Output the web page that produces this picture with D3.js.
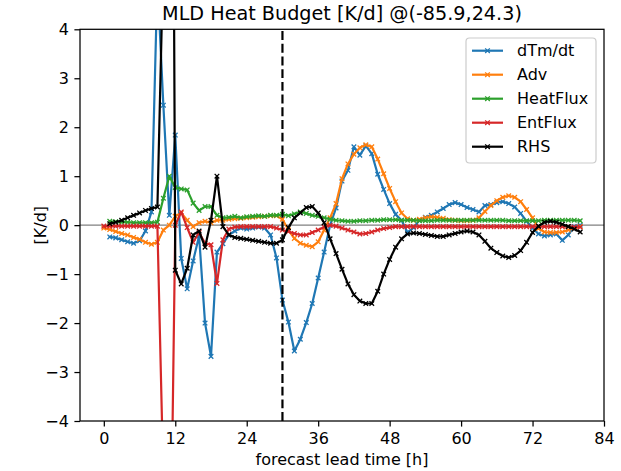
<!DOCTYPE html>
<html>
<head>
<meta charset="utf-8">
<script src="https://cdn.jsdelivr.net/npm/d3@7"></script>
<style>
  body { margin: 0; background: #fff; }
  svg text { font-family: "DejaVu Sans", sans-serif; fill: #000; }
</style>
</head>
<body>
<script>
// forecast hours
const hoursA = d3.range(0, 81)   // Adv, EntFlux
const hoursB = d3.range(1, 81)   // dTm/dt, HeatFlux, RHS

const dTmdt = [-0.24,-0.26,-0.3,-0.34,-0.37,-0.32,-0.12,0.27,5.0,2.45,
  0.2,1.84,-0.68,-1.3,-0.73,-0.22,-2.0,-2.68,-0.55,-0.38,
  -0.2,-0.12,-0.06,-0.08,-0.06,-0.04,-0.06,-0.2,-0.67,-1.53,
  -1.98,-2.57,-2.33,-1.99,-1.6,-1.08,-0.55,0.0,0.35,0.9,
  1.12,1.6,1.43,1.62,1.46,1.04,0.73,0.44,0.22,0.1,
  -0.15,-0.05,0.1,0.16,0.2,0.27,0.34,0.42,0.46,0.42,
  0.36,0.32,0.27,0.4,0.42,0.46,0.48,0.44,0.37,0.24,
  0.08,-0.06,-0.18,-0.22,-0.2,-0.18,-0.31,-0.2,-0.03,0.0]

const adv = [-0.06,-0.09,-0.13,-0.17,-0.2,-0.25,-0.29,-0.35,-0.39,-0.35,
  -0.1,0.0,0.18,0.25,0.1,-0.03,0.05,0.08,0.05,0.1,
  0.1,0.12,0.13,0.14,0.15,0.16,0.17,0.18,0.19,0.19,
  0.12,-0.1,-0.27,-0.37,-0.41,-0.44,-0.34,-0.1,0.15,0.44,
  0.95,1.25,1.45,1.58,1.64,1.6,1.35,1.05,0.75,0.48,
  0.25,0.13,0.1,0.12,0.15,0.17,0.16,0.14,0.11,0.1,
  0.09,0.09,0.1,0.15,0.28,0.4,0.5,0.57,0.6,0.57,
  0.48,0.32,0.15,-0.07,-0.14,-0.15,-0.15,-0.14,-0.1,-0.06,-0.03]

const heatFlux = [0.08,0.07,0.06,0.06,0.05,0.05,0.05,0.05,0.06,0.55,
  1.0,0.77,0.74,0.72,0.45,0.3,0.38,0.38,0.2,0.15,
  0.16,0.18,0.15,0.17,0.18,0.19,0.18,0.2,0.2,0.22,
  0.19,0.23,0.27,0.24,0.2,0.18,0.15,0.12,0.1,0.09,
  0.08,0.08,0.09,0.09,0.1,0.1,0.11,0.11,0.11,0.1,
  0.1,0.1,0.09,0.09,0.09,0.1,0.1,0.1,0.1,0.1,
  0.1,0.1,0.1,0.1,0.1,0.1,0.1,0.09,0.09,0.09,
  0.09,0.09,0.09,0.1,0.1,0.1,0.1,0.1,0.1,0.09]

const entFlux = [-0.02,-0.02,-0.02,-0.02,-0.02,-0.02,-0.02,-0.02,-0.02,-0.02,
  -5.2,-9.0,0.0,0.27,-0.05,-0.35,-0.15,-0.37,-0.4,-1.19,
  -0.3,-0.08,-0.04,-0.03,-0.03,-0.03,-0.03,-0.03,-0.03,-0.06,
  -0.1,-0.13,-0.17,-0.2,-0.2,-0.15,-0.1,-0.04,0.0,-0.02,
  -0.06,-0.1,-0.14,-0.18,-0.17,-0.14,-0.1,-0.07,-0.05,-0.03,
  -0.03,-0.03,-0.03,-0.03,-0.03,-0.03,-0.03,-0.03,-0.03,-0.03,
  -0.03,-0.03,-0.03,-0.03,-0.03,-0.03,-0.03,-0.03,-0.03,-0.03,
  -0.03,-0.03,-0.03,-0.03,-0.03,-0.03,-0.03,-0.03,-0.03,-0.04,-0.04]

const rhs = [0.03,0.06,0.1,0.15,0.2,0.25,0.3,0.34,0.37,5.5,
  25,-0.92,-1.2,-0.88,-0.2,-0.12,-0.45,0.1,1.0,-0.03,
  -0.2,-0.25,-0.27,-0.29,-0.31,-0.33,-0.35,-0.37,-0.37,-0.3,
  -0.05,0.15,0.25,0.36,0.38,0.25,0.05,-0.28,-0.58,-0.9,
  -1.2,-1.42,-1.55,-1.6,-1.6,-1.35,-1.0,-0.7,-0.45,-0.28,
  -0.18,-0.16,-0.17,-0.19,-0.21,-0.23,-0.23,-0.2,-0.17,-0.14,
  -0.12,-0.14,-0.2,-0.33,-0.47,-0.56,-0.63,-0.66,-0.62,-0.52,
  -0.35,-0.15,-0.02,0.06,0.08,0.06,0.02,-0.03,-0.08,-0.14]

const seriesNames = ["dTm/dt", "Adv", "HeatFlux", "EntFlux", "RHS"]
const seriesColors = ["#1f77b4", "#ff7f0e", "#2ca02c", "#d62728", "#000000"]
const seriesHours = [hoursB, hoursA, hoursB, hoursA, hoursB]
const seriesValues = [dTmdt, adv, heatFlux, entFlux, rhs]

const xTicks = [0, 12, 24, 36, 48, 60, 72, 84]
const yTicks = [-4, -3, -2, -1, 0, 1, 2, 3, 4]
const initTime = 30

const width = 621, height = 471
const margin = ({top: 29.3, right: 17, bottom: 50, left: 80})
const fs = 16
const lw = 2.2

const x = d3.scaleLinear([-4, 84], [margin.left, width - margin.right])
const y = d3.scaleLinear([-4, 4], [height - margin.bottom, margin.top])

const svg = d3.select("body").append("svg")
    .attr("width", width)
    .attr("height", height)

svg.append("defs").append("clipPath").attr("id", "clip")
  .append("rect")
    .attr("x", margin.left).attr("y", margin.top)
    .attr("width", x.range()[1] - x.range()[0])
    .attr("height", y.range()[0] - y.range()[1])

const plot = svg.append("g").attr("clip-path", "url(#clip)")

// zero line
plot.append("line")
    .attr("x1", x.range()[0]).attr("x2", x.range()[1])
    .attr("y1", y(0)).attr("y2", y(0))
    .attr("stroke", "#808080").attr("stroke-width", 1.4)

const line = d3.line().x(d => x(d[0])).y(d => y(d[1]))

const cross = (sel, color) => sel.attr("d", "M-2.3,-2.3L2.3,2.3M-2.3,2.3L2.3,-2.3")
    .attr("stroke", color).attr("stroke-width", 1.3).attr("fill", "none")

seriesNames.forEach((name, i) => {
  const pts = seriesHours[i].map((h, j) => [h, seriesValues[i][j]])
  const g = plot.append("g")
  g.append("path")
      .datum(pts)
      .attr("d", line)
      .attr("fill", "none")
      .attr("stroke", seriesColors[i])
      .attr("stroke-width", lw)
      .attr("stroke-linejoin", "round")
      .attr("stroke-linecap", "square")
  g.selectAll("path.m")
    .data(pts)
    .join("path")
      .attr("class", "m")
      .attr("transform", d => `translate(${x(d[0])},${y(d[1])})`)
      .call(cross, seriesColors[i])
})

// init time marker
plot.append("line")
    .attr("x1", x(initTime)).attr("x2", x(initTime))
    .attr("y1", y.range()[0]).attr("y2", y.range()[1])
    .attr("stroke", "#000").attr("stroke-width", lw)
    .attr("stroke-dasharray", "8.9,3.8")

// axes
const xAxis = svg.append("g")
    .attr("transform", `translate(0,${y.range()[0]})`)
    .call(d3.axisBottom(x).tickValues(xTicks).tickSizeOuter(0).tickSize(5.6).tickPadding(5.6))
const yAxis = svg.append("g")
    .attr("transform", `translate(${margin.left},0)`)
    .call(d3.axisLeft(y).tickValues(yTicks).tickSizeOuter(0).tickSize(5.6).tickPadding(5.6)
      .tickFormat(d => d < 0 ? "\u2212" + Math.abs(d) : d))
for (const a of [xAxis, yAxis]) {
  a.select(".domain").remove()
  a.selectAll(".tick line").attr("stroke", "#000").attr("stroke-width", 1.25)
  a.selectAll(".tick text").attr("font-size", fs).attr("font-family", "DejaVu Sans").attr("fill", "#000")
}

svg.append("rect")
    .attr("x", margin.left).attr("y", margin.top)
    .attr("width", x.range()[1] - x.range()[0])
    .attr("height", y.range()[0] - y.range()[1])
    .attr("fill", "none").attr("stroke", "#000").attr("stroke-width", 1.25)

// titles
svg.append("text")
    .attr("x", (x.range()[0] + x.range()[1]) / 2)
    .attr("y", 20)
    .attr("text-anchor", "middle")
    .attr("font-size", 19.2)
    .text("MLD Heat Budget [K/d] @(-85.9,24.3)")

svg.append("text")
    .attr("x", (x.range()[0] + x.range()[1]) / 2)
    .attr("y", 465)
    .attr("text-anchor", "middle")
    .attr("font-size", fs)
    .text("forecast lead time [h]")

svg.append("text")
    .attr("transform", `translate(46,${(y.range()[0] + y.range()[1]) / 2}) rotate(-90)`)
    .attr("text-anchor", "middle")
    .attr("font-size", fs)
    .text("[K/d]")

// legend
const legend = svg.append("g")
legend.append("rect")
    .attr("x", 466).attr("y", 38)
    .attr("width", 130).attr("height", 125)
    .attr("rx", 3.5)
    .attr("fill", "#fff").attr("fill-opacity", 0.8)
    .attr("stroke", "#cccccc").attr("stroke-width", 1.2)

seriesNames.forEach((name, i) => {
  const cy = 50.7 + i * 24
  legend.append("line")
      .attr("x1", 472).attr("x2", 503)
      .attr("y1", cy).attr("y2", cy)
      .attr("stroke", seriesColors[i]).attr("stroke-width", lw)
      .attr("stroke-linecap", "butt")
  legend.append("path")
      .attr("transform", `translate(487.5,${cy})`)
      .call(cross, seriesColors[i])
  legend.append("text")
      .attr("x", 517).attr("y", cy)
      .attr("dy", "0.36em")
      .attr("font-size", fs)
      .text(name)
})
</script>
</body>
</html>
